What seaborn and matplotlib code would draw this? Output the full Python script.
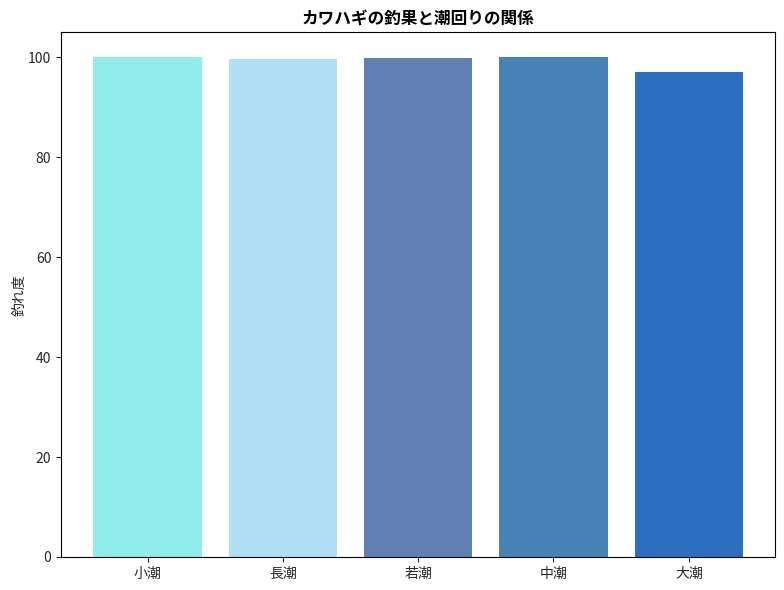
import matplotlib
matplotlib.use("Agg")
from matplotlib import pyplot as plt
import seaborn as sns
import pandas as pd

tides = ['小潮', '長潮', '若潮', '中潮', '大潮']
scores = [100.0, 99.6, 99.8, 100.0, 97.0]
colors = ['#91EDEC', '#B0DFF5', '#617EB2', '#4682B4', '#2C6FC0']

sns.set_style('ticks')
plt.rcParams['font.family'] = ['Noto Sans CJK JP', 'DejaVu Sans']
plt.rcParams['axes.spines.right'] = True
plt.rcParams['axes.spines.top'] = True

df = pd.DataFrame({'tide': tides, 'score': scores})

fig, ax = plt.subplots(figsize=(7.84, 5.9), dpi=100)
sns.barplot(data=df, x='tide', y='score', hue='tide', palette=colors,
            width=0.8, saturation=1, legend=False, ax=ax, linewidth=0)
ax.set_title('カワハギの釣果と潮回りの関係', fontweight='bold', fontsize=12,
             color='black')
ax.set_xlabel('')
ax.set_ylabel('釣れ度', labelpad=1)
ax.set_xlim(-0.64, 4.64)
ax.set_ylim(0, 105)
for s in ax.spines.values():
    s.set_color('black')
fig.subplots_adjust(left=0.0778, right=0.989, top=0.945, bottom=0.056)
plt.savefig('out.png')
